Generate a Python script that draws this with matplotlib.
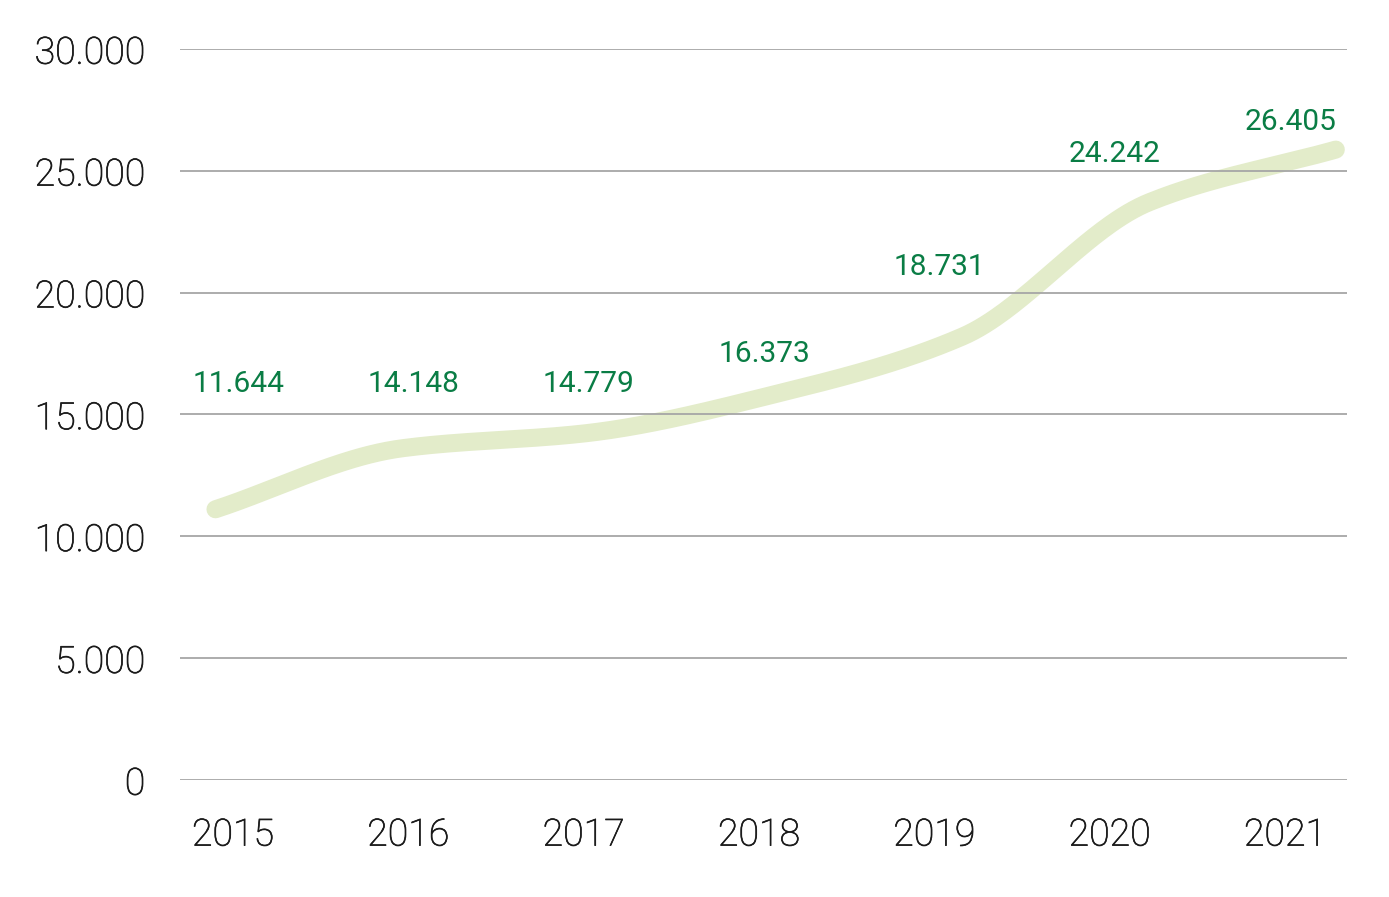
import numpy as np
import matplotlib
matplotlib.use("Agg")
import matplotlib.pyplot as plt
from matplotlib import transforms
import matplotlib.patheffects as pe

# ---- data ----
years = ["2015", "2016", "2017", "2018", "2019", "2020", "2021"]
values = [11644, 14148, 14779, 16373, 18731, 24242, 26405]
value_labels = ["11.644", "14.148", "14.779", "16.373", "18.731", "24.242", "26.405"]
y_ticks = [0, 5000, 10000, 15000, 20000, 25000, 30000]
y_tick_labels = ["0", "5.000", "10.000", "15.000", "20.000", "25.000", "30.000"]

# label anchor heights (layout)
label_y = [16250, 16250, 16250, 17480, 21050, 25690, 27000]

LINE_COLOR = "#e3ecca"
LABEL_COLOR = "#0a7d45"
TEXT_COLOR = "#1a1a1a"
GRID_COLOR = "#a6a6a6"


def pchip(x, y, xs):
    x = np.asarray(x, float)
    y = np.asarray(y, float)
    h = np.diff(x)
    d = np.diff(y) / h
    n = len(x)
    m = np.zeros(n)
    for k in range(1, n - 1):
        if d[k - 1] * d[k] > 0:
            w1 = 2 * h[k] + h[k - 1]
            w2 = h[k] + 2 * h[k - 1]
            m[k] = (w1 + w2) / (w1 / d[k - 1] + w2 / d[k])
    m[0] = d[0]
    m[-1] = d[-1]
    out = np.empty_like(xs)
    for i, xv in enumerate(xs):
        k = min(np.searchsorted(x, xv, side="right") - 1, n - 2)
        k = max(k, 0)
        t = (xv - x[k]) / h[k]
        h00 = 2 * t**3 - 3 * t**2 + 1
        h10 = t**3 - 2 * t**2 + t
        h01 = -2 * t**3 + 3 * t**2
        h11 = t**3 - t**2
        out[i] = h00 * y[k] + h10 * h[k] * m[k] + h01 * y[k + 1] + h11 * h[k] * m[k + 1]
    return out


fig = plt.figure(figsize=(13.89, 8.97), dpi=100)
ax = fig.add_axes([180 / 1389, 117 / 897, 1167 / 1389, 731 / 897])

x = np.arange(len(years))
ax.set_xlim(-0.302, 6.354)
ax.set_ylim(0, 30000)

for s in ax.spines.values():
    s.set_visible(False)

# gridlines on top of line
for yt in y_ticks:
    ax.axhline(yt, color=GRID_COLOR, lw=1.3, zorder=3)

ax.set_yticks(y_ticks)
ax.set_yticklabels(y_tick_labels)
ax.set_xticks(x)
ax.set_xticklabels(years)
ax.tick_params(axis="y", length=0, pad=25, labelsize=27, labelcolor=TEXT_COLOR)
ax.tick_params(axis="x", length=0, pad=26, labelsize=27, labelcolor=TEXT_COLOR)
thicken = [pe.withStroke(linewidth=0.5, foreground=TEXT_COLOR)]
for lab in ax.get_xticklabels() + ax.get_yticklabels():
    lab.set_fontfamily("Roboto")
    lab.set_fontweight("light")
    lab.set_path_effects(thicken)
for lab in ax.get_yticklabels():
    lab.set_verticalalignment("center_baseline")

# smoothed line in its own x scale
ax2 = fig.add_axes(ax.get_position(), frameon=False)
ax2.set_xlim(-0.19, 6.06)
ax2.set_ylim(0, 30000)
ax2.set_xticks([])
ax2.set_yticks([])
ax2.set_zorder(ax.get_zorder() - 1)
ax.patch.set_visible(False)
xs = np.linspace(0, len(years) - 1, 400)
ys = pchip(x, values, xs)
off = transforms.offset_copy(ax2.transData, fig=fig, x=0, y=-13, units="dots")
ax2.plot(xs, ys, color=LINE_COLOR, lw=13, solid_capstyle="round",
         solid_joinstyle="round", transform=off, clip_on=False)

for xi, ly, txt in zip(x, label_y, value_labels):
    ax.text(xi + 0.03, ly, txt, ha="center", va="center", fontsize=21.5,
            color=LABEL_COLOR, family="Roboto", zorder=5)

fig.savefig("out.png", dpi=100, facecolor="white")
